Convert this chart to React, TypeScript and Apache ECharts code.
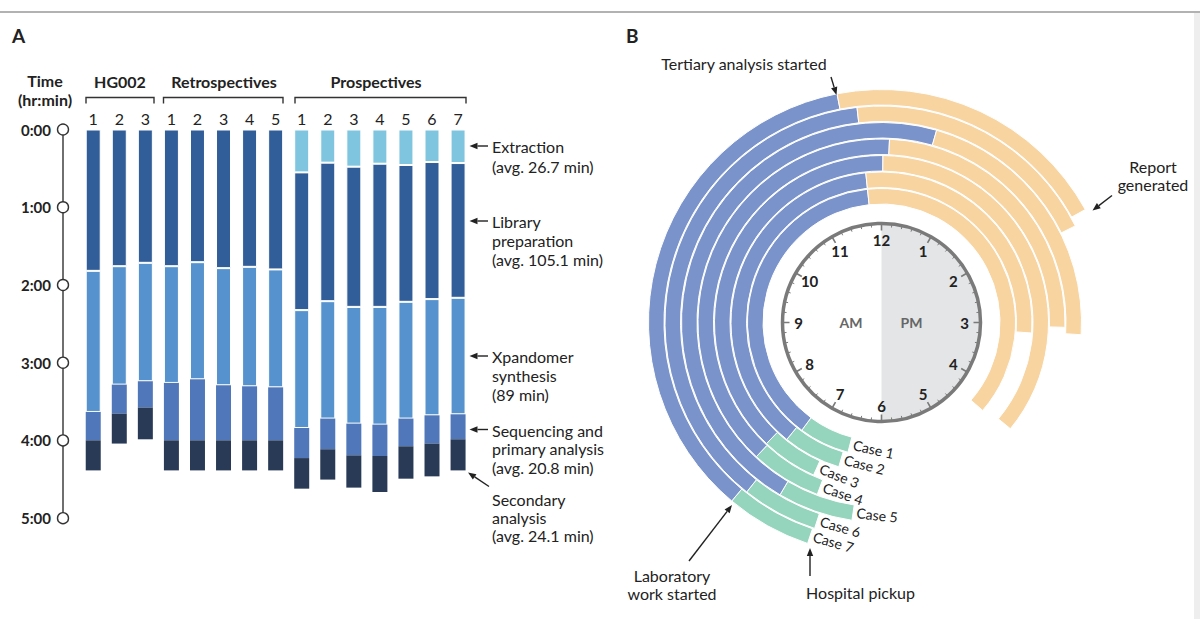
import React, { useEffect, useRef } from "react";
import * as echarts from "echarts";

const FONT = "Lato, 'Open Sans', 'Noto Sans', sans-serif";
const INK = "#222222";

// ---------------- Panel A data ----------------
const groupNames = ["HG002", "Retrospectives", "Prospectives"];
const groupSizes = [3, 5, 7];
const barNumbers = ["1", "2", "3", "1", "2", "3", "4", "5", "1", "2", "3", "4", "5", "6", "7"];
const timeTickLabels = ["0:00", "1:00", "2:00", "3:00", "4:00", "5:00"];
const stageNames = ["Extraction", "Library preparation", "Xpandomer synthesis", "Sequencing and primary analysis", "Secondary analysis"];
const stageColors = ["#80c5df", "#315d98", "#5692cd", "#5077b9", "#293a56"];
// minutes per stage, one value per bar
const extractionMin = [0, 0, 0, 0, 0, 0, 0, 0, 33.1, 25.6, 28.7, 26.4, 27.4, 25.1, 25.9];
const libraryMin = [109.1, 105.5, 102.9, 105.5, 102.4, 107.0, 106.0, 108.0, 106.3, 106.9, 108.2, 110.5, 105.6, 105.8, 104.0];
const xpandomerMin = [108.9, 91.4, 91.4, 90.1, 90.4, 90.4, 92.2, 91.0, 91.0, 90.6, 90.1, 90.9, 90.1, 89.7, 89.9];
const sequencingMin = [21.9, 22.4, 20.3, 44.3, 47.1, 42.5, 41.7, 40.9, 23.2, 23.7, 24.5, 24.2, 21.4, 21.8, 19.3];
const secondaryMin = [23.2, 23.1, 24.5, 23.2, 23.2, 23.2, 23.2, 23.2, 23.6, 23.4, 24.9, 27.8, 25.0, 25.3, 24.0];

// ---------------- Panel B data ----------------
const caseNames = ["Case 1", "Case 2", "Case 3", "Case 4", "Case 5", "Case 6", "Case 7"];
const hospitalPickup = ["6:29", "6:33", "6:48", "6:41", "6:17", "6:36", "6:37"];
const labWorkStarted = ["7:13", "7:18", "7:27", "7:26", "7:01", "7:17", "7:20"];
const tertiaryStarted = ["11:48", "11:48", "12:01", "12:05", "12:32", "11:47", "11:38"];
const reportGenerated = ["16:22", "15:08", "16:19", "15:03", "15:07", "14:07", "14:02"];
const clockHours = ["12", "1", "2", "3", "4", "5", "6", "7", "8", "9", "10", "11"];

const toHours = (s: string) => {
  const [h, m] = s.split(":").map(Number);
  return h + m / 60;
};

// clock geometry (decoration)
const CX = 881.5;
const CY = 322.5;
const CLOCK_R = 99;
const ORIGIN_HOUR = 6; // ring angle axis starts at 6 o'clock (bottom)

function arrow(x1: number, y1: number, x2: number, y2: number) {
  const a = Math.atan2(y2 - y1, x2 - x1);
  const L = 8;
  const w = 3.2;
  const bx = x2 - L * Math.cos(a);
  const by = y2 - L * Math.sin(a);
  return [
    { type: "line", shape: { x1, y1, x2: bx, y2: by }, style: { stroke: INK, lineWidth: 1.4 }, z: 20 },
    {
      type: "polygon",
      shape: {
        points: [
          [x2, y2],
          [bx + w * Math.sin(a), by - w * Math.cos(a)],
          [bx - w * Math.sin(a), by + w * Math.cos(a)],
        ],
      },
      style: { fill: INK },
      z: 20,
    },
  ];
}

function txt(text: string, x: number, y: number, opts: any = {}) {
  return {
    type: "text",
    z: 20,
    style: {
      text,
      x,
      y,
      fill: opts.fill || INK,
      fontFamily: FONT,
      fontSize: opts.fontSize || 16,
      fontWeight: opts.fontWeight || "normal",
      lineHeight: opts.lineHeight || 19,
      align: opts.align || "left",
      textAlign: opts.align || "left",
      verticalAlign: opts.verticalAlign || "top",
      textVerticalAlign: opts.verticalAlign || "top",
    },
  };
}

function bracket(x1: number, x2: number) {
  return {
    type: "polyline",
    shape: { points: [[x1, 103.5], [x1, 97.5], [x2, 97.5], [x2, 103.5]] },
    style: { stroke: "#333", lineWidth: 1.4, fill: "none" },
    z: 20,
  };
}

export default function App() {
  const ref = useRef<HTMLDivElement>(null);

  useEffect(() => {
    if (!ref.current) return;
    const chart = echarts.init(ref.current, undefined, { renderer: "svg" });

    const categories: string[] = [];
    let idx = 0;
    groupSizes.forEach((n, g) => {
      for (let k = 0; k < n; k++) {
        categories.push(groupNames[g] + "|" + barNumbers[idx]);
        idx++;
      }
    });
    const stageData = [extractionMin, libraryMin, xpandomerMin, sequencingMin, secondaryMin];

    const barSeries = stageData.map((d, i) => ({
      name: stageNames[i],
      type: "bar",
      xAxisIndex: 0,
      yAxisIndex: 0,
      stack: "time",
      barWidth: 15,
      data: d,
      itemStyle: {
        color: stageColors[i],
        borderColor: "#ffffff",
        borderWidth: i < 3 ? 1 : 0,
      },
      silent: true,
    }));

    const pickup = hospitalPickup.map(toHours);
    const lab = labWorkStarted.map(toHours);
    const tert = tertiaryStarted.map(toHours);
    const rep = reportGenerated.map(toHours);

    const ringCommon = {
      type: "bar",
      coordinateSystem: "polar",
      polarIndex: 0,
      stack: "clock",
      barWidth: 15.5,
      silent: true,
    };

    const ringSeries = [
      { ...ringCommon, name: "base", data: pickup.map((p) => p - ORIGIN_HOUR), itemStyle: { color: "rgba(0,0,0,0)", borderWidth: 0 } },
      { ...ringCommon, name: "Hospital pickup", data: pickup.map((p, i) => lab[i] - p), itemStyle: { color: "#95d4bd", borderColor: "#fff", borderWidth: 1 } },
      { ...ringCommon, name: "Laboratory work", data: lab.map((l, i) => tert[i] - l), itemStyle: { color: "#7a93cb", borderColor: "#fff", borderWidth: 1 } },
      { ...ringCommon, name: "Tertiary analysis", data: tert.map((t, i) => rep[i] - t), itemStyle: { color: "#f8d4a0", borderColor: "#fff", borderWidth: 1 } },
    ];

    const caseLabelSeries = {
      type: "scatter",
      coordinateSystem: "polar",
      polarIndex: 0,
      symbolSize: 1,
      itemStyle: { color: "rgba(0,0,0,0)", opacity: 1 },
      silent: true,
      z: 10,
      data: pickup.map((p, i) => {
        const theta = (p % 12) * 30;
        return {
          value: [i, p - ORIGIN_HOUR],
          label: { rotate: -(theta - 180) + 2 },
        };
      }),
      label: {
        show: true,
        position: "right",
        distance: 3,
        formatter: (p: any) => caseNames[p.dataIndex],
        fontFamily: FONT,
        fontSize: 14,
        color: INK,
        opacity: 1,
      },
      emphasis: { disabled: true },
    };

    const clockNumberSeries = {
      type: "scatter",
      coordinateSystem: "polar",
      polarIndex: 1,
      symbolSize: 1,
      itemStyle: { color: "rgba(0,0,0,0)", opacity: 1 },
      silent: true,
      z: 10,
      data: clockHours.map((_, i) => [83, i]),
      label: {
        show: true,
        position: "inside",
        formatter: (p: any) => clockHours[p.dataIndex],
        fontFamily: FONT,
        fontSize: 15,
        fontWeight: "bold",
        color: INK,
        opacity: 1,
      },
      emphasis: { disabled: true },
    };

    const timeAxisSeries = {
      type: "line",
      xAxisIndex: 1,
      yAxisIndex: 1,
      data: timeTickLabels.map((_, i) => [0.5, i * 60]),
      symbol: "circle",
      symbolSize: 11,
      itemStyle: { color: "#ffffff", borderColor: "#333", borderWidth: 1.4 },
      lineStyle: { color: "#333", width: 1.4 },
      silent: true,
      z: 3,
    };

    const graphics: any[] = [
      { type: "line", shape: { x1: 0, y1: 12, x2: 1200, y2: 12 }, style: { stroke: "#666", lineWidth: 1.2 }, z: 20 },
      { type: "rect", shape: { x: 1194, y: 13, width: 6, height: 606 }, style: { fill: "#eeeeee" }, z: 0 },
      txt("A", 12, 26, { fontWeight: "bold", fontSize: 19 }),
      txt("B", 626, 26, { fontWeight: "bold", fontSize: 19 }),
      txt("Time\n(hr:min)", 45, 71.5, { fontWeight: "bold", align: "center", lineHeight: 18.6 }),
      txt("HG002", 120, 71.5, { fontWeight: "bold", align: "center" }),
      txt("Retrospectives", 224, 71.5, { fontWeight: "bold", align: "center" }),
      txt("Prospectives", 376, 71.5, { fontWeight: "bold", align: "center" }),
      bracket(86, 154),
      bracket(163.5, 283),
      bracket(295, 466),
      txt("Extraction\n(avg. 26.7 min)", 492, 136.5, { lineHeight: 20 }),
      ...arrow(488, 146, 469.5, 146),
      txt("Library\npreparation\n(avg. 105.1 min)", 492, 211.5, { lineHeight: 19 }),
      ...arrow(488, 221, 469.5, 221),
      txt("Xpandomer\nsynthesis\n(89 min)", 492, 347, { lineHeight: 19 }),
      ...arrow(488, 356, 469.5, 356),
      txt("Sequencing and\nprimary analysis\n(avg. 20.8 min)", 492, 421, { lineHeight: 18.5 }),
      ...arrow(488, 429.5, 469.5, 429.5),
      txt("Secondary\nanalysis\n(avg. 24.1 min)", 492, 490.5, { lineHeight: 18 }),
      ...arrow(489, 486.5, 468, 472.5),
      // clock face
      {
        type: "sector",
        shape: { cx: CX, cy: CY, r: CLOCK_R - 1, r0: 0, startAngle: -Math.PI / 2, endAngle: Math.PI / 2, clockwise: true },
        style: { fill: "#e4e5e7" },
        z: 0,
      },
      txt("AM", 851, 322, { fontWeight: "bold", fontSize: 14, fill: "#666", align: "center", verticalAlign: "middle" }),
      txt("PM", 911.5, 322, { fontWeight: "bold", fontSize: 14, fill: "#666", align: "center", verticalAlign: "middle" }),
      // panel B annotations
      txt("Tertiary analysis started", 744, 63, { align: "center", verticalAlign: "middle" }),
      ...arrow(831, 77, 836.5, 95),
      txt("Report\ngenerated", 1153, 157.7, { align: "center", lineHeight: 18 }),
      ...arrow(1112, 195.5, 1092.5, 210.5),
      txt("Laboratory\nwork started", 672, 566, { align: "center", lineHeight: 18 }),
      ...arrow(689, 561, 732, 505),
      txt("Hospital pickup", 860.5, 592, { align: "center", verticalAlign: "middle" }),
      ...arrow(810, 576, 810, 548),
    ];

    const option: any = {
      animation: false,
      backgroundColor: "#ffffff",
      textStyle: { fontFamily: FONT },
      grid: [
        { left: 80.2, top: 129.5, width: 390.9, height: 388.7 },
        { left: 58, top: 129.5, width: 10, height: 388.7 },
      ],
      xAxis: [
        {
          gridIndex: 0,
          type: "category",
          data: categories,
          position: "top",
          axisLine: { show: false },
          axisTick: { show: false },
          splitLine: { show: false },
          axisLabel: {
            interval: 0,
            formatter: (v: string) => v.split("|")[1],
            fontFamily: FONT,
            fontSize: 16,
            color: INK,
            margin: 3,
          },
        },
        { gridIndex: 1, type: "value", min: 0, max: 1, show: false },
      ],
      yAxis: [
        { gridIndex: 0, type: "value", min: 0, max: 300, inverse: true, show: false },
        {
          gridIndex: 1,
          type: "value",
          min: 0,
          max: 300,
          interval: 60,
          inverse: true,
          axisLine: { show: false },
          axisTick: { show: false },
          splitLine: { show: false },
          axisLabel: {
            formatter: (v: number) => timeTickLabels[Math.round(v / 60)],
            fontFamily: FONT,
            fontSize: 15,
            fontWeight: "bold",
            color: INK,
            margin: 7,
          },
        },
      ],
      polar: [
        { center: [CX, CY], radius: [118, 233.5] },
        { center: [CX, CY], radius: [0, CLOCK_R] },
      ],
      angleAxis: [
        {
          polarIndex: 0,
          type: "value",
          min: 0,
          max: 12,
          startAngle: 270,
          clockwise: true,
          axisLine: { show: false },
          axisTick: { show: false },
          axisLabel: { show: false },
          splitLine: { show: false },
        },
        {
          polarIndex: 1,
          type: "value",
          min: 0,
          max: 12,
          interval: 1,
          startAngle: 90,
          clockwise: true,
          z: 5,
          axisLine: { show: true, lineStyle: { color: "#7a7a7a", width: 3.5 } },
          axisTick: { show: true, inside: true, length: 7, lineStyle: { color: "#7a7a7a", width: 1.6 } },
          minorTick: { show: true, splitNumber: 5, length: 3.5, lineStyle: { color: "#7a7a7a", width: 1 } },
          axisLabel: { show: false },
          splitLine: { show: false },
        },
      ],
      radiusAxis: [
        {
          polarIndex: 0,
          type: "category",
          data: caseNames,
          axisLine: { show: false },
          axisTick: { show: false },
          axisLabel: { show: false },
          splitLine: { show: false },
        },
        {
          polarIndex: 1,
          type: "value",
          min: 0,
          max: CLOCK_R,
          axisLine: { show: false },
          axisTick: { show: false },
          axisLabel: { show: false },
          splitLine: { show: false },
        },
      ],
      series: [...barSeries, timeAxisSeries, ...ringSeries, caseLabelSeries, clockNumberSeries],
      graphic: { elements: graphics },
    };

    chart.setOption(option);
    return () => chart.dispose();
  }, []);

  return <div ref={ref} style={{ position: "absolute", left: 0, top: 0, width: 1200, height: 619 }} />;
}
